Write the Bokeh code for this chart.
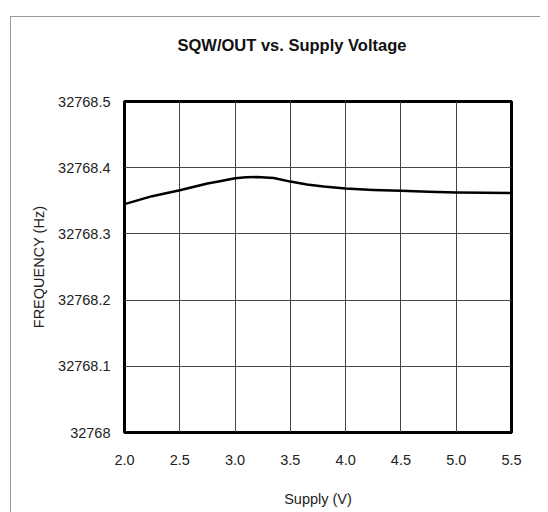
from bokeh.plotting import figure
from bokeh.models import FixedTicker, CustomJSTickFormatter, PrintfTickFormatter, InlineStyleSheet
from bokeh.embed import file_html
from bokeh.resources import INLINE

supply_v = [2.0, 2.25, 2.5, 2.75, 2.85, 3.0, 3.1, 3.2, 3.35, 3.5, 3.65, 3.8, 4.0,
            4.25, 4.5, 4.75, 5.0, 5.25, 5.5]
freq_hz = [32768.345, 32768.357, 32768.366, 32768.376, 32768.379, 32768.3840, 32768.3855,
           32768.3858, 32768.3845, 32768.379, 32768.3745, 32768.3715, 32768.3686,
           32768.3665, 32768.3651, 32768.3637, 32768.3625, 32768.362, 32768.3616]
x_ticks = [2.0, 2.5, 3.0, 3.5, 4.0, 4.5, 5.0, 5.5]
y_ticks = [32768.0, 32768.1, 32768.2, 32768.3, 32768.4, 32768.5]
title_text = "SQW/OUT vs. Supply Voltage"
x_label = "Supply (V)"
y_label = "FREQUENCY (Hz)"

REG = "Liberation Sans"

p = figure(width=540, height=528, output_backend="svg", toolbar_location=None,
           title=title_text,
           x_range=(2.0, 5.5), y_range=(32768.0, 32768.5),
           min_border_left=124, min_border_right=29, min_border_top=117, min_border_bottom=80)
p.margin = (-16, 0, 0, 0)
p.background_fill_color = "white"
p.border_fill_color = "white"
p.outline_line_color = "black"
p.outline_line_width = 3

p.line(supply_v, freq_hz, line_color="black", line_width=2.5, line_join="round")

for ax in (p.xaxis[0], p.yaxis[0]):
    ax.axis_line_color = None
    ax.major_tick_line_color = None
    ax.minor_tick_line_color = None
    ax.major_tick_out = 0
    ax.major_tick_in = 0
    ax.minor_tick_out = 0
    ax.major_label_text_font = REG
    ax.major_label_text_font_size = "14.5px"
    ax.major_label_text_color = "#222222"
    ax.axis_label_text_font = REG
    ax.axis_label_text_font_size = "14.5px"
    ax.axis_label_text_font_style = "normal"
    ax.axis_label_text_color = "#222222"

p.xaxis.ticker = FixedTicker(ticks=x_ticks)
p.xaxis.formatter = PrintfTickFormatter(format="%.1f")
p.yaxis.ticker = FixedTicker(ticks=y_ticks)
p.yaxis.formatter = CustomJSTickFormatter(code="""
const s = tick.toFixed(1);
return s.endsWith('.0') ? s.slice(0, -2) : s;
""")
p.xaxis.axis_label = x_label
p.yaxis.axis_label = y_label
p.xaxis.major_label_standoff = 22
p.yaxis.major_label_standoff = 14
p.xaxis.axis_label_standoff = 23
p.yaxis.axis_label_standoff = 8

p.xgrid.ticker = FixedTicker(ticks=x_ticks)
p.ygrid.ticker = FixedTicker(ticks=y_ticks)
for g in (p.xgrid[0], p.ygrid[0]):
    g.grid_line_color = "#444444"
    g.grid_line_width = 1

p.title.align = "left"
p.title.offset = 53
p.title.standoff = 95
p.title.text_font = REG
p.title.text_font_style = "bold"
p.title.text_font_size = "16.5px"
p.title.text_color = "#111111"

p.stylesheets = [InlineStyleSheet(css="""
:host::after {
  content: '';
  position: absolute;
  left: 10px;
  top: 32px;
  width: 530px;
  height: 496px;
  border-left: 1.5px solid #9a9a9a;
  border-top: 1.5px solid #9a9a9a;
  pointer-events: none;
  box-sizing: border-box;
}
""")]

open("out.html", "w").write(file_html(p, INLINE))
